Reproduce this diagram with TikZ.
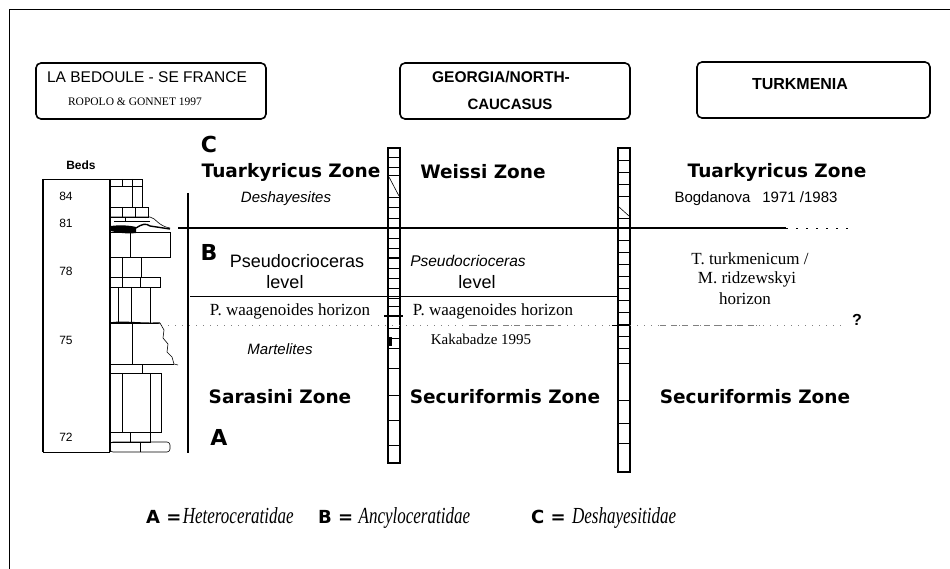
\documentclass[tikz,border=0pt]{standalone}
\usepackage{fontspec}
\setmainfont{Liberation Serif}
\setsansfont{Liberation Sans}
\newfontfamily\heavyfont{DejaVu Sans}
\newcommand\fsz[1]{\fontsize{#1}{#1}\selectfont}
\tikzset{
  region/.style={draw, line width=1.6pt, rounded corners=5pt},
  zone/.style={font=\heavyfont\bfseries\fsz{18.5}},
  taxon/.style={font=\sffamily\itshape\fsz{15}},
  horizon/.style={font=\fsz{17}},
  family/.style={font=\heavyfont\bfseries\fsz{22}},
  bednum/.style={font=\sffamily\fsz{12}},
  ladder/.style={line width=1.6pt},
  rung/.style={line width=0.6pt},
  bed/.style={draw, line width=0.6pt},
  legendname/.style={font=\fsz{23}\itshape, xscale=0.74, anchor=base west, inner sep=0pt},
  legendkey/.style={font=\heavyfont\bfseries\fsz{18}, anchor=base west, inner sep=0pt},
}
\begin{document}
\begin{tikzpicture}[x=1pt,y=-1pt]
  \useasboundingbox (0,0) rectangle (950,569);
  % frame
  \draw[line width=0.8pt] (9,569) -- (9,9) -- (950,9);
  % regions
  \draw[region] (36,63) rectangle (266,119);
  \node[font=\sffamily\fsz{15.5}] (bedoule) at (147,77) {LA BEDOULE - SE FRANCE};
  \node[font=\fsz{11.5}] (ropolo) at (135,102) {ROPOLO \& GONNET 1997};
  \draw[region] (400,63) rectangle (630,119);
  \node[font=\sffamily\bfseries\fsz{15.5}] (georgia) at (501,77) {GEORGIA/NORTH-};
  \node[font=\sffamily\bfseries\fsz{15}] (caucasus) at (510,104) {CAUCASUS};
  \draw[region] (697,62) rectangle (930,118);
  \node[font=\sffamily\bfseries\fsz{16}] (turkmenia) at (800,84) {TURKMENIA};
  % beds column
  \node[font=\sffamily\bfseries\fsz{12}] (beds) at (81,165) {Beds};
  \draw[line width=0.6pt] (110,179) -- (43,179);
  \draw[line width=1.4pt] (43,179) -- (43,452);
  \draw[line width=0.6pt] (43,452) -- (110,452);
  \node[bednum] (b84) at (66,196) {84};
  \node[bednum] (b81) at (66,223) {81};
  \node[bednum] (b78) at (66,271) {78};
  \node[bednum] (b75) at (66,340) {75};
  \node[bednum] (b72) at (66,437) {72};
  % lithology
  \draw[bed] (110,179) rectangle (142,207);
  \draw[bed] (110,186) -- (142,186) (122,179) -- (122,186) (132,179) -- (132,207);
  \draw[bed] (110,207) rectangle (148,217) (122,207) -- (122,217) (135,207) -- (135,217);
  \draw[bed] (110,217) -- (150,217) .. controls (156,218) and (158,226) .. (170,228);
  \draw[bed] (114,221) -- (150,221) (125,217) -- (125,221);
  \fill (111,226) .. controls (118,225) and (128,225) .. (136,227) -- (136,233) .. controls (128,234) and (118,233) .. (111,231) -- cycle;
  \draw[line width=1.4pt] (136,228) .. controls (142,224) and (146,223) .. (150,226) -- (170,229);
  \draw[bed] (110,232) rectangle (170,257) (130,232) -- (130,257);
  \draw[bed] (110,257) rectangle (141,277) (122,257) -- (122,277);
  \draw[bed] (110,277) rectangle (160,287) (122,277) -- (122,287) (140,277) -- (140,287);
  \draw[bed] (110,287) rectangle (150,323) (118,287) -- (118,323) (131,287) -- (131,323);
  \draw[line width=1.4pt] (110,323) .. controls (125,321) and (140,324) .. (160,323);
  \draw[bed] (160,323) -- (164,330) -- (163,338) -- (168,344) -- (167,352) -- (172,357) -- (174,364) -- (178,365);
  \draw[bed] (110,364) -- (174,364) (132,323) -- (132,364);
  \draw[bed] (110,364) rectangle (142,373);
  \draw[bed] (110,373) rectangle (161,432) (122,373) -- (122,432) (150,373) -- (150,432);
  \draw[bed] (110,432) rectangle (150,442) (130,432) -- (130,442);
  \draw[bed, rounded corners=3pt] (110,442) rectangle (170,452);
  \draw[bed] (140,442) -- (140,452);
  \draw[line width=1.6pt] (110,179) -- (110,452);
  % column bar
  \draw[line width=2pt] (188,193) -- (188,453);
  % ladders
  \draw[ladder] (388,148) rectangle (400,463);
  \foreach \y in {157,167,175,197,207,218,238,248,258,268,278,288,298,306,316,328,338,348}
    \draw[rung] (388,\y) -- (400,\y);
  \foreach \y in {368,395,420,445}
    \draw[rung] (388,\y) -- (400,\y);
  \draw[rung] (389,177) -- (399,196);
  \draw[line width=2pt] (384,316) -- (403,316);
  \draw[line width=2pt] (388,258) -- (400,258);
  \fill (387,337) rectangle (392,346);
  \draw[ladder] (618,148) rectangle (630,472);
  \foreach \y in {160,172,184,196,218,240,252,264,276,288,300,312,324,336,348}
    \draw[rung] (618,\y) -- (630,\y);
  \foreach \y in {363,400,423,443}
    \draw[rung] (618,\y) -- (630,\y);
  \draw[rung] (619,207) -- (629,216);
  % boundaries
  \draw[line width=2pt] (178,228) -- (786,228);
  \draw[line width=0.5pt, dash pattern=on 2pt off 8pt] (786,228) -- (850,228);
  \draw[line width=0.6pt] (190,296) -- (618,296);
  \draw[line width=0.5pt, gray, dash pattern=on 1pt off 6pt] (168,325) -- (845,325);
  \draw[line width=0.5pt, gray, dash pattern=on 6pt off 5pt] (470,325) -- (560,325) (660,325) -- (760,325);
  \draw[line width=1pt] (612,325) -- (630,325);
  \node[font=\sffamily\bfseries\fsz{16}] (query) at (857,320) {?};
  % La Bedoule
  \node[family] (lc) at (209,144) {C};
  \node[zone] (c1top) at (291,172) {Tuarkyricus Zone};
  \node[taxon] (c1desh) at (286,199) {Deshayesites};
  \node[family] (lb) at (209,252) {B};
  \node[font=\sffamily\fsz{18}] (c1pseudo) at (297,261) {Pseudocrioceras};
  \node[font=\sffamily\fsz{18}] (c1level) at (285,282) {level};
  \node[horizon] (c1wa) at (290,311) {P. waagenoides horizon};
  \node[taxon] (c1mart) at (280,349) {Martelites};
  \node[zone] (c1low) at (280,397) {Sarasini Zone};
  \node[family] (la) at (219,437) {A};
  % Georgia
  \node[zone] (c2top) at (483,172) {Weissi Zone};
  \node[font=\sffamily\itshape\fsz{15.5}] (c2pseudo) at (468,261) {Pseudocrioceras};
  \node[font=\sffamily\fsz{18}] (c2level) at (477,282) {level};
  \node[horizon] (c2wa) at (493,311) {P. waagenoides horizon};
  \node[font=\fsz{15}] (kaka) at (481,339) {Kakabadze 1995};
  \node[zone] (c2low) at (505,397) {Securiformis Zone};
  % Turkmenia
  \node[zone] (c3top) at (777,172) {Tuarkyricus Zone};
  \node[font=\sffamily\fsz{15}] (bogd) at (756,199) {Bogdanova\hspace{12pt}1971 /1983};
  \node[font=\fsz{17}] (c3turk) at (750,259) {T. turkmenicum /};
  \node[font=\fsz{17}] (c3ridz) at (747,279) {M. ridzewskyi};
  \node[font=\fsz{17}] (c3hor) at (745,299) {horizon};
  \node[zone] (c3low) at (755,397) {Securiformis Zone};
  % legend
  \node[legendkey] (ka) at (146,523) {A =};
  \node[legendname] (na) at ([xshift=1pt]ka.base east) {Heteroceratidae};
  \node[legendkey] (kb) at (318,523) {B =};
  \node[legendname] (nb) at ([xshift=5pt]kb.base east) {Ancyloceratidae};
  \node[legendkey] (kc) at (531,523) {C =};
  \node[legendname] (nc) at ([xshift=6pt]kc.base east) {Deshayesitidae};
\end{tikzpicture}
\end{document}
